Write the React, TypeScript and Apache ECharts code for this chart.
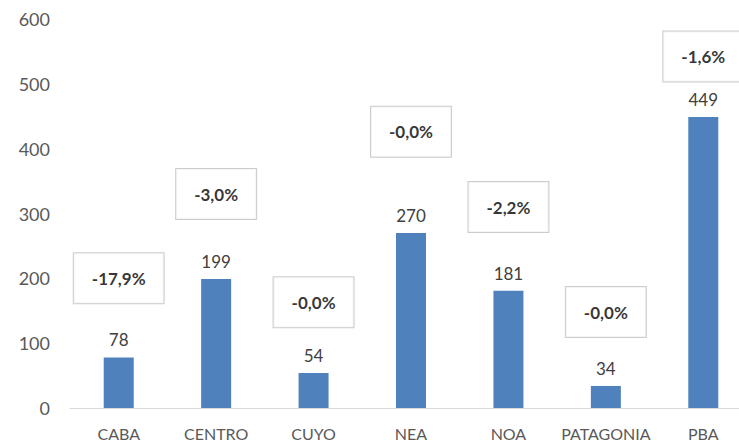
import React, { useEffect, useRef } from "react";
import * as echarts from "echarts";

const categories = ["CABA", "CENTRO", "CUYO", "NEA", "NOA", "PATAGONIA", "PBA"];
const values = [78, 199, 54, 270, 181, 34, 449];
const changeLabels = ["-17,9%", "-3,0%", "-0,0%", "-0,0%", "-2,2%", "-0,0%", "-1,6%"];
// vertical anchor (in axis units) of each change box
const changeAnchor = [200, 330, 163, 426, 310, 148, 542];

export default function App() {
  const ref = useRef<HTMLDivElement>(null);
  useEffect(() => {
    if (!ref.current) return;
    const chart = echarts.init(ref.current, undefined, { renderer: "svg" });
    chart.setOption({
      animation: false,
      backgroundColor: "#ffffff",
      textStyle: { fontFamily: "Lato" },
      grid: { left: 70, right: 0, top: 19, bottom: 34, containLabel: false },
      xAxis: {
        type: "category",
        data: categories,
        axisLine: { show: true, lineStyle: { color: "#d9d9d9", width: 1 } },
        axisTick: { show: false },
        axisLabel: { color: "#595959", fontSize: 16, margin: 17, interval: 0, fontFamily: "Lato" },
      },
      yAxis: {
        type: "value",
        min: 0,
        max: 600,
        interval: 100,
        axisLine: { show: false },
        axisTick: { show: false },
        splitLine: { show: false },
        axisLabel: { color: "#595959", fontSize: 18, margin: 20, fontFamily: "Lato" },
      },
      series: [
        {
          type: "bar",
          data: values,
          barWidth: 30,
          itemStyle: { color: "#4F81BD" },
          label: {
            show: true,
            position: "top",
            distance: 9,
            color: "#404040",
            fontSize: 17,
            fontFamily: "Lato",
          },
        },
        {
          type: "scatter",
          data: changeAnchor.map((v, i) => [categories[i], v]),
          symbolSize: 1,
          itemStyle: { color: "rgba(0,0,0,0)" },
          z: 5,
          label: {
            show: true,
            position: "inside",
            formatter: (p: any) => changeLabels[p.dataIndex],
            color: "#000000",
            fontWeight: "bold",
            fontSize: 17,
            fontFamily: "Lato",
            backgroundColor: "#ffffff",
            borderColor: "#bfbfbf",
            borderWidth: 1,
            padding: [16, 18, 16, 18],
            lineHeight: 18,
          },
        },
      ],
    });
    return () => chart.dispose();
  }, []);
  return (
    <div style={{ position: "absolute", left: 0, top: 0, width: 739, height: 442, overflow: "hidden" }}>
      <div ref={ref} style={{ width: 752, height: 442 }} />
    </div>
  );
}
